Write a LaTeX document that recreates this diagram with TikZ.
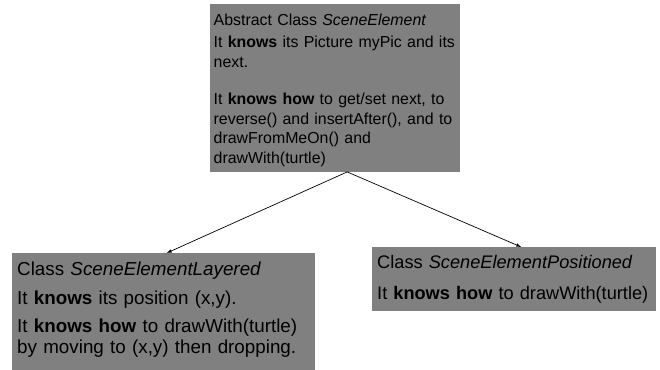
\documentclass[tikz,border=0pt]{standalone}
\usepackage{fontspec}
\setmainfont{Liberation Sans}

\definecolor{classgray}{RGB}{128,128,128}

\begin{document}
\begin{tikzpicture}[>=latex, x=1pt, y=-1pt,
		classbox/.style={fill=classgray, anchor=north west, align=left, inner xsep=5pt, inner ysep=9pt}]
		\useasboundingbox (0,0) rectangle (660,369);
		% abstract base class on top
		\node [classbox, inner xsep=3.5pt, inner ysep=10pt, text width=243pt, text depth=136pt, font=\fontsize{15.9}{19.5}\selectfont] (elem) at (210,4)
			{Abstract Class \textit{SceneElement}\\[2.5pt]
			It \textbf{knows} its Picture myPic and its\\
			next.\\[18pt]
			It \textbf{knows how} to get/set next, to\\
			reverse() and insertAfter(), and to\\
			drawFromMeOn() and\\
			drawWith(turtle)};
		% the two subclasses
		\node [classbox, text width=293pt, text depth=86pt, font=\fontsize{18.8}{21}\selectfont] (layered) at (12,253)
			{Class \textit{SceneElementLayered}\\[8pt]
			It \textbf{knows} its position (x,y).\\[7pt]
			It \textbf{knows how} to drawWith(turtle)\\
			by moving to (x,y) then dropping.};
		\node [classbox, text width=274pt, text depth=35pt, inner ysep=8pt, font=\fontsize{18.2}{21}\selectfont] (positioned) at (372,247)
			{Class \textit{SceneElementPositioned}\\[10pt]
			It \textbf{knows how} to drawWith(turtle)};
		\draw [line width=0.7pt, ->] ([xshift=12pt]elem.south) -- ([xshift=3pt]layered.north);
		\draw [line width=0.7pt, ->] ([xshift=12pt]elem.south) -- ([xshift=7pt]positioned.north);
	\end{tikzpicture}
\end{document}
